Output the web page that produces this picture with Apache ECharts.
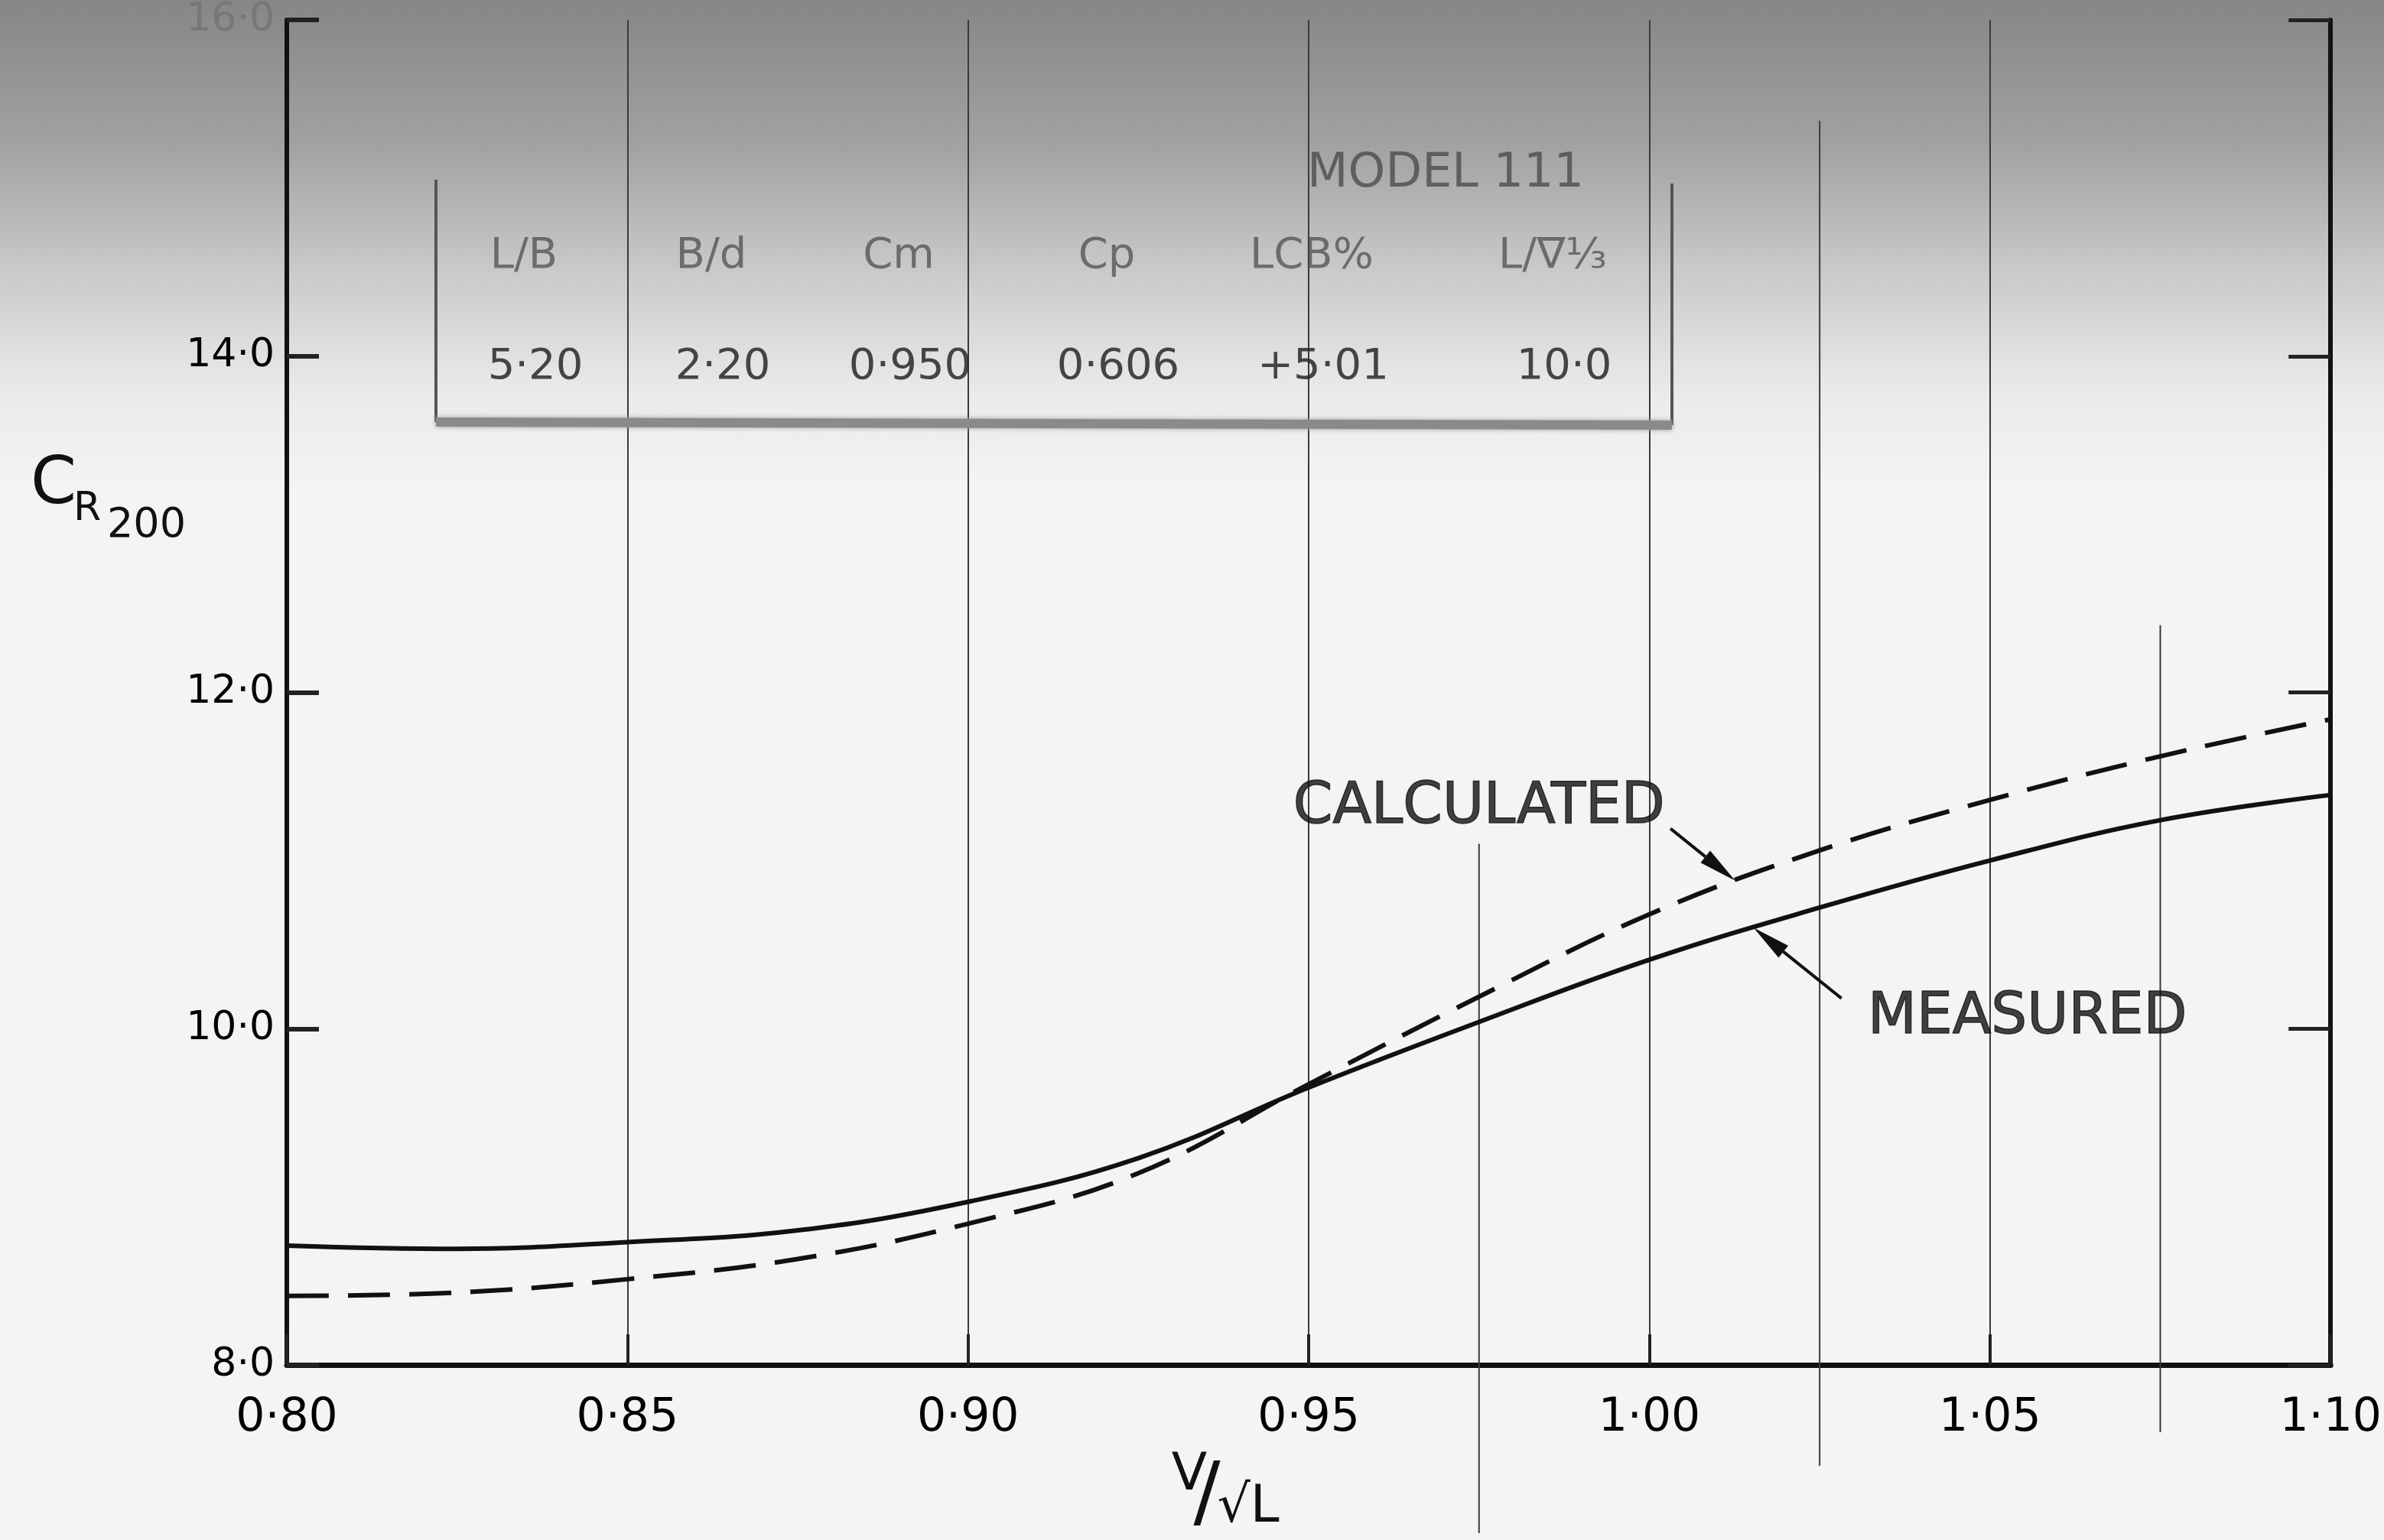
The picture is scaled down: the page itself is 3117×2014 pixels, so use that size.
<!DOCTYPE html>
<html>
<head>
<meta charset="utf-8">
<script src="https://cdn.jsdelivr.net/npm/echarts@6/dist/echarts.min.js"></script>
<style>
html, body { margin: 0; padding: 0; background: #f4f4f4; }
#main { width: 3117px; height: 2014px; }
</style>
</head>
<body>
<div id="main"></div>
<script>
// V/sqrt(L) readings and the two C_R200 curves
const speeds = [0.80, 0.825, 0.85, 0.875, 0.90, 0.925, 0.95, 0.975, 1.00, 1.025, 1.05, 1.075, 1.10];
const measured = [8.71, 8.69, 8.73, 8.80, 8.97, 9.23, 9.65, 10.04, 10.41, 10.72, 11.00, 11.24, 11.39];
const calculated = [8.41, 8.43, 8.51, 8.63, 8.84, 9.14, 9.67, 10.19, 10.68, 11.06, 11.36, 11.62, 11.84];

// model particulars (box at the top)
const modelTitle = 'MODEL 111';
const tableHeaders = ['L/B', 'B/d', 'Cm', 'Cp', 'LCB%', 'L/∇⅓'];
const tableValues = ['5·20', '2·20', '0·950', '0·606', '+5·01', '10·0'];

// arrows: [x0, y0, x1 (tip), y1 (tip)] in data units
const arrows = [
    [1.0031, 11.19, 1.0126, 10.88],
    [1.0282, 10.18, 1.0153, 10.60]
];
const notes = [
    { name: 'CALCULATED', x: 0.975, y: 11.31 },
    { name: 'MEASURED', x: 1.0555, y: 10.06 }
];
// stray vertical lines showing through the paper: [x, yFrom, yTo]
const faintLines = [[0.975, 7.0, 11.1], [1.025, 7.4, 15.4], [1.075, 7.6, 12.4]];

const colX = [700, 945, 1190, 1462, 1730, 2045];

let myChart = echarts.init(document.getElementById('main'));

const blurText = (x, y, text, size, color) => ({
    type: 'text', x: x, y: y, z: 5, silent: true,
    style: {
        text: text, fill: color, font: size + 'px "DejaVu Sans"',
        align: 'center', verticalAlign: 'middle',
        shadowBlur: 10, shadowColor: 'rgba(90,90,90,0.9)'
    }
});
const ink = (x, y, text, size, align) => ({
    type: 'text', x: x, y: y, silent: true,
    style: { text: text, fill: '#111', font: size + 'px "DejaVu Sans"', align: align || 'left', verticalAlign: 'middle' }
});

let graphics = [
    {
        type: 'rect', z: -10, silent: true,
        shape: { x: 0, y: 0, width: 3117, height: 640 },
        style: {
            fill: new echarts.graphic.LinearGradient(0, 0, 0, 1, [
                { offset: 0, color: '#868686' },
                { offset: 0.3, color: '#a2a2a2' },
                { offset: 0.55, color: '#c9c9c9' },
                { offset: 0.8, color: '#eaeaea' },
                { offset: 1, color: '#f4f4f4' }
            ])
        }
    },
    { type: 'line', z: 4, silent: true, shape: { x1: 570, y1: 235, x2: 570, y2: 552 }, style: { stroke: '#555', lineWidth: 4 } },
    { type: 'line', z: 4, silent: true, shape: { x1: 2186, y1: 240, x2: 2186, y2: 556 }, style: { stroke: '#555', lineWidth: 4 } },
    { type: 'line', z: 4, silent: true, shape: { x1: 570, y1: 552, x2: 2186, y2: 556 }, style: { stroke: '#8a8a8a', lineWidth: 12, shadowBlur: 6, shadowColor: '#999' } },
    blurText(1890, 228, modelTitle, 62, 'rgba(70,70,70,0.75)'),
    // C_R200 label
    ink(40, 636, 'C', 86),
    ink(96, 666, 'R', 52),
    ink(140, 688, '200', 54),
    // V/sqrt(L) label
    ink(1555, 1930, 'V', 68, 'center'),
    ink(1578, 1958, '/', 104, 'center'),
    ink(1632, 1972, '√L', 68, 'center')
];
tableHeaders.forEach((h, i) => graphics.push(blurText(colX[i] - 15, 335, h, 56, 'rgba(70,70,70,0.7)')));
tableValues.forEach((v, i) => graphics.push(blurText(colX[i], 480, v, 56, 'rgba(40,40,40,0.85)')));

let option = {
    animation: false,
    backgroundColor: '#f4f4f4',
    grid: { left: 375, right: 50, top: 12, bottom: 229 },
    xAxis: {
        type: 'value', min: 0.8, max: 1.1, interval: 0.05,
        axisLine: { onZero: false, lineStyle: { color: '#111', width: 7 } },
        axisTick: { inside: true, length: 40, lineStyle: { color: '#222', width: 4 } },
        axisLabel: {
            margin: 40, fontSize: 60, color: '#000', fontFamily: 'DejaVu Sans',
            formatter: v => v.toFixed(2).replace('.', '·')
        },
        splitLine: { show: true, lineStyle: { color: '#3a3a3a', width: 2 } }
    },
    yAxis: [
        {
            type: 'value', min: 8, max: 16, interval: 2,
            axisLine: { show: true, onZero: false, lineStyle: { color: '#111', width: 6 } },
            axisTick: { show: true, inside: true, length: 42, lineStyle: { color: '#222', width: 6 } },
            axisLabel: {
                margin: 16, fontSize: 52, color: '#000', fontFamily: 'DejaVu Sans',
                formatter: v => v === 16 ? '{f|16·0}' : v.toFixed(1).replace('.', '·'),
                rich: { f: { color: '#777', fontSize: 52, fontFamily: 'DejaVu Sans' } }
            },
            splitLine: { show: false }
        },
        {
            type: 'value', min: 8, max: 16, interval: 2, position: 'right',
            axisLine: { show: true, onZero: false, lineStyle: { color: '#111', width: 6 } },
            axisTick: { show: true, inside: true, length: 55, lineStyle: { color: '#222', width: 5 } },
            axisLabel: { show: false },
            splitLine: { show: false }
        }
    ],
    graphic: { elements: graphics },
    series: [
        {
            name: 'MEASURED', type: 'line', smooth: 0.4, symbol: 'none',
            data: speeds.map((s, i) => [s, measured[i]]),
            lineStyle: { color: '#111', width: 6 }
        },
        {
            name: 'CALCULATED', type: 'line', smooth: 0.4, symbol: 'none',
            data: speeds.map((s, i) => [s, calculated[i]]),
            lineStyle: { color: '#111', width: 6, type: [55, 25] }
        },
        {
            name: 'faint', type: 'custom', clip: false, silent: true, z: 1,
            data: faintLines,
            renderItem: (params, api) => {
                const a = api.coord([api.value(0), api.value(1)]);
                const b = api.coord([api.value(0), api.value(2)]);
                return {
                    type: 'line',
                    shape: { x1: a[0], y1: a[1], x2: b[0], y2: b[1] },
                    style: { stroke: '#3a3a3a', lineWidth: 2 }
                };
            }
        },
        {
            name: 'arrows', type: 'custom', clip: false, silent: true, z: 3,
            data: arrows,
            renderItem: (params, api) => {
                const a = api.coord([api.value(0), api.value(1)]);
                const b = api.coord([api.value(2), api.value(3)]);
                const dx = b[0] - a[0], dy = b[1] - a[1];
                const len = Math.sqrt(dx * dx + dy * dy);
                const ux = dx / len, uy = dy / len;
                const hl = 50, hw = 10;
                const bx = b[0] - ux * hl, by = b[1] - uy * hl;
                return {
                    type: 'group',
                    children: [
                        {
                            type: 'line',
                            shape: { x1: a[0], y1: a[1], x2: bx, y2: by },
                            style: { stroke: '#111', lineWidth: 4 }
                        },
                        {
                            type: 'polygon',
                            shape: { points: [[b[0], b[1]], [bx - uy * hw, by + ux * hw], [bx + uy * hw, by - ux * hw]] },
                            style: { fill: '#111' }
                        }
                    ]
                };
            }
        },
        {
            name: 'notes', type: 'scatter', symbolSize: 0, silent: true,
            data: notes.map(n => ({ name: n.name, value: [n.x, n.y] })),
            label: {
                show: true, position: 'inside', formatter: p => p.name,
                fontSize: 74, color: '#111', fontFamily: 'DejaVu Sans',
                textBorderColor: '#111', textBorderWidth: 1.5
            }
        }
    ]
};
myChart.setOption(option, true);
window.onresize = myChart.resize;
</script>
</body>
</html>
